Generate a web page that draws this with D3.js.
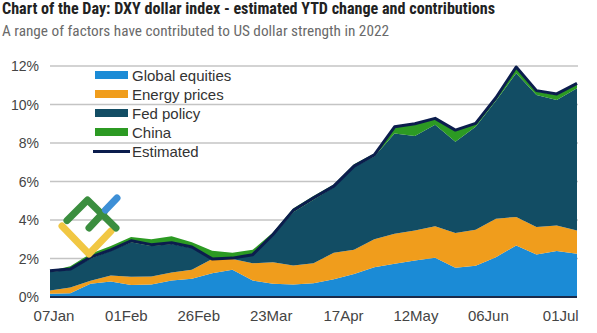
<!DOCTYPE html>
<html>
<head>
<meta charset="utf-8">
<script src="https://cdn.jsdelivr.net/npm/d3@7"></script>
<style>
  html, body { margin: 0; padding: 0; background: #fff; }
  svg { display: block; }
</style>
</head>
<body>
<svg id="chart" width="597" height="333"></svg>
<script>
// ---- data ----
const dates = ["2022-01-07","2022-01-14","2022-01-21","2022-01-28","2022-02-04","2022-02-11","2022-02-18","2022-02-25",
  "2022-03-04","2022-03-11","2022-03-18","2022-03-25","2022-04-01","2022-04-08","2022-04-15","2022-04-22","2022-04-29",
  "2022-05-06","2022-05-13","2022-05-20","2022-05-27","2022-06-03","2022-06-10","2022-06-17","2022-06-24","2022-07-01","2022-07-08"];
const globalEquities = [0.17,0.20,0.69,0.81,0.62,0.65,0.86,0.95,1.24,1.42,0.86,0.69,0.65,0.72,0.92,1.20,1.55,1.73,1.90,2.04,1.52,1.62,2.07,2.68,2.21,2.39,2.25];
const energyPrices   = [0.17,0.30,0.16,0.31,0.43,0.42,0.41,0.47,0.73,0.55,0.89,1.12,0.99,1.03,1.38,1.25,1.45,1.56,1.56,1.63,1.80,1.88,2.00,1.48,1.43,1.33,1.21];
const fedPolicy      = [0.96,0.92,1.15,1.28,1.80,1.58,1.48,1.13,0.03,0.03,0.45,1.39,2.76,3.30,3.40,4.30,4.30,5.21,4.90,5.28,4.74,5.34,6.13,7.46,6.86,6.51,7.38];
const china          = [0.05,0.18,0.25,0.25,0.27,0.35,0.40,0.30,0.40,0.30,0.25,0.15,0.20,0.20,0.15,0.15,0.15,0.32,0.62,0.30,0.56,0.16,0.10,0.28,0.18,0.27,0.21];
const estimated      = [1.36,1.45,2.07,2.45,2.92,2.72,2.82,2.60,1.98,2.02,2.20,3.25,4.50,5.15,5.76,6.80,7.38,8.84,9.00,9.28,8.67,9.02,10.35,11.95,10.72,10.55,11.10];

const seriesNames = ["Global equities","Energy prices","Fed policy","China"];
const seriesKeys  = ["eq","en","fed","cn"];
const seriesColors = ["#1b8bd6","#f09d1c","#124d64","#2c9a23"];
const lineName = "Estimated";
const yTicks = [0,2,4,6,8,10,12];
const yTickLabels = ["0%","2%","4%","6%","8%","10%","12%"];
const xTickDates = ["2022-01-07","2022-02-01","2022-02-26","2022-03-23","2022-04-17","2022-05-12","2022-06-06","2022-07-01"];
const xTickLabels = ["07Jan","01Feb","26Feb","23Mar","17Apr","12May","06Jun","01Jul"];
const title = "Chart of the Day: DXY dollar index - estimated YTD change and contributions";
const subtitle = "A range of factors have contributed to US dollar strength in 2022";

// ---- build ----
const parse = d3.utcParse("%Y-%m-%d");
const rows = dates.map((d, i) => ({
  date: parse(d), eq: globalEquities[i], en: energyPrices[i], fed: fedPolicy[i], cn: china[i], est: estimated[i]
}));

const svg = d3.select("#chart");
const x = d3.scaleUtc().domain([parse(dates[0]), parse(dates[dates.length - 1])]).range([50, 577]);
const y = d3.scaleLinear().domain([0, 12]).range([297, 66]);

// title
svg.append("text").attr("x", 2).attr("y", 14)
  .attr("font-family", "'Liberation Sans Narrow','Roboto Condensed','Open Sans',Roboto,sans-serif")
  .attr("font-weight", "bold").attr("font-size", 16).attr("fill", "#222")
  .attr("textLength", 493).attr("lengthAdjust", "spacingAndGlyphs")
  .text(title);
svg.append("text").attr("x", 2).attr("y", 36)
  .attr("font-family", "'Liberation Sans Narrow','Roboto Condensed','Open Sans',Roboto,sans-serif")
  .attr("font-size", 15.5).attr("fill", "#6a6a6a")
  .attr("textLength", 387).attr("lengthAdjust", "spacingAndGlyphs")
  .text(subtitle);

// gridlines
svg.append("g").selectAll("line").data(yTicks.filter(v => v > 0)).join("line")
  .attr("x1", 50).attr("x2", 578)
  .attr("y1", d => y(d)).attr("y2", d => y(d))
  .attr("stroke", "#c4c4c4").attr("stroke-width", 1.5);

// y labels
svg.append("g").selectAll("text").data(yTicks).join("text")
  .attr("x", 39).attr("y", d => y(d) + 5)
  .attr("text-anchor", "end")
  .attr("font-family", "'Liberation Sans',Arial,sans-serif").attr("font-size", 14).attr("fill", "#444")
  .text((d, i) => yTickLabels[i]);

// stacked areas
const stack = d3.stack().keys(seriesKeys);
const layers = stack(rows);
const area = d3.area().x(d => x(d.data.date)).y0(d => y(d[0])).y1(d => y(d[1]));
svg.append("g").selectAll("path").data(layers).join("path")
  .attr("d", area).attr("fill", (d, i) => seriesColors[i]);

// baseline
svg.append("line").attr("x1", 50).attr("x2", 577).attr("y1", y(0)).attr("y2", y(0))
  .attr("stroke", "#1a2a4a").attr("stroke-width", 2);

// estimated line
const line = d3.line().x(d => x(d.date)).y(d => y(d.est));
svg.append("path").datum(rows).attr("d", line)
  .attr("fill", "none").attr("stroke", "#0b1d4d").attr("stroke-width", 3).attr("stroke-linejoin", "round");

// x labels
svg.append("g").selectAll("text").data(xTickDates).join("text")
  .attr("x", d => x(parse(d)) + 4).attr("y", 321)
  .attr("text-anchor", "middle")
  .attr("font-family", "'Liberation Sans',Arial,sans-serif").attr("font-size", 15).attr("fill", "#444")
  .text((d, i) => xTickLabels[i]);

// legend
const leg = svg.append("g");
const rowY = [75, 94, 113, 132, 151.5];
seriesNames.forEach((name, i) => {
  leg.append("rect").attr("x", 95).attr("y", rowY[i] - 4).attr("width", 33).attr("height", 8).attr("fill", seriesColors[i]);
  leg.append("text").attr("x", 132).attr("y", rowY[i] + 5.5)
    .attr("font-family", "'Liberation Sans',Arial,sans-serif").attr("font-size", 15).attr("fill", "#333")
    .text(name);
});
leg.append("line").attr("x1", 93).attr("x2", 130).attr("y1", rowY[4]).attr("y2", rowY[4])
  .attr("stroke", "#0b1d4d").attr("stroke-width", 3);
leg.append("text").attr("x", 132).attr("y", rowY[4] + 5.5)
  .attr("font-family", "'Liberation Sans',Arial,sans-serif").attr("font-size", 15).attr("fill", "#333")
  .text(lineName);

// watermark logo
const logo = svg.append("g").attr("fill", "none").attr("stroke-width", 7).attr("stroke-linecap", "round").attr("stroke-linejoin", "round");
logo.append("path").attr("d", "M62,226 L89,254 L111,231").attr("stroke", "#f1c743");
logo.append("path").attr("d", "M67,220.5 L87.5,200 L116,228").attr("stroke", "#3b8e3f");
logo.append("path").attr("d", "M89,228 L104,212").attr("stroke", "#3b8e3f");
logo.append("path").attr("d", "M105.5,210 L117,198").attr("stroke", "#3d8fd6");
</script>
</body>
</html>
